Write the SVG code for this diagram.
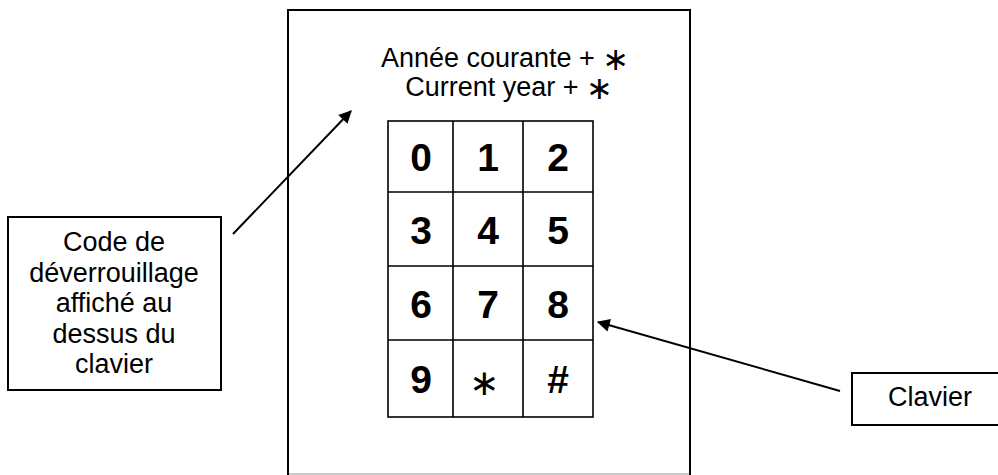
<svg xmlns="http://www.w3.org/2000/svg" width="998" height="475" viewBox="0 0 998 475">
<defs>
<style>
.box{fill:#fff;stroke:#000;stroke-width:2}
.grid{fill:none;stroke:#000;stroke-width:1.6}
.t{font-family:"Liberation Sans",Arial,sans-serif;font-size:27px;fill:#000;text-anchor:middle}
.k{font-family:"Liberation Sans",Arial,sans-serif;font-size:39px;font-weight:bold;fill:#000;text-anchor:middle}
.ast{font-family:"DejaVu Sans",sans-serif}
.conn{stroke:#000;stroke-width:2;fill:none}
</style>
<marker id="ah" viewBox="0 0 10 10" refX="9" refY="5" markerWidth="8" markerHeight="8" markerUnits="userSpaceOnUse" orient="auto" style="overflow:visible">
<path d="M0,0 L10,5 L0,10 z" fill="#000" transform="scale(1.6) translate(-3.5,-1.9)"/>
</marker>
</defs>
<rect width="998" height="475" fill="#fff"/>
<g id="device">
<path class="box" d="M288,476 V10 H690 V476" />
<path d="M288,474 H690" stroke="#000" stroke-width="1" opacity="0.4"/>
<text class="t" x="505" y="67">Année courante + <tspan class="ast" font-size="32" dy="3">∗</tspan></text>
<text class="t" x="509" y="96">Current year + <tspan class="ast" font-size="32" dy="3">∗</tspan></text>
</g>
<g id="keypad">
<rect class="grid" x="388" y="121" width="205" height="296"/>
<path class="grid" d="M453,121 V417 M523,121 V417 M388,192 H593 M388,266 H593 M388,340 H593"/>
<text class="k" x="421" y="171">0</text>
<text class="k" x="488" y="171">1</text>
<text class="k" x="558" y="171">2</text>
<text class="k" x="421" y="244">3</text>
<text class="k" x="488" y="244">4</text>
<text class="k" x="558" y="244">5</text>
<text class="k" x="421" y="318">6</text>
<text class="k" x="488" y="318">7</text>
<text class="k" x="558" y="318">8</text>
<text class="k" x="421" y="393">9</text>
<text class="t ast" x="484" y="395" style="font-size:36px">∗</text>
<text class="k" x="558" y="393">#</text>
</g>
<g id="code-label">
<rect class="box" x="8" y="217" width="213" height="173"/>
<text class="t" x="114" y="251">Code de</text>
<text class="t" x="114" y="282">déverrouillage</text>
<text class="t" x="114" y="312">affiché au</text>
<text class="t" x="114" y="343">dessus du</text>
<text class="t" x="114" y="373">clavier</text>
</g>
<g id="clavier-label">
<rect class="box" x="852" y="373" width="160" height="52"/>
<text class="t" x="930" y="406">Clavier</text>
</g>
<g id="connectors">
<line class="conn" x1="233" y1="234" x2="351" y2="111" marker-end="url(#ah)"/>
<line class="conn" x1="840" y1="391" x2="598" y2="322" marker-end="url(#ah)"/>
</g>
</svg>
